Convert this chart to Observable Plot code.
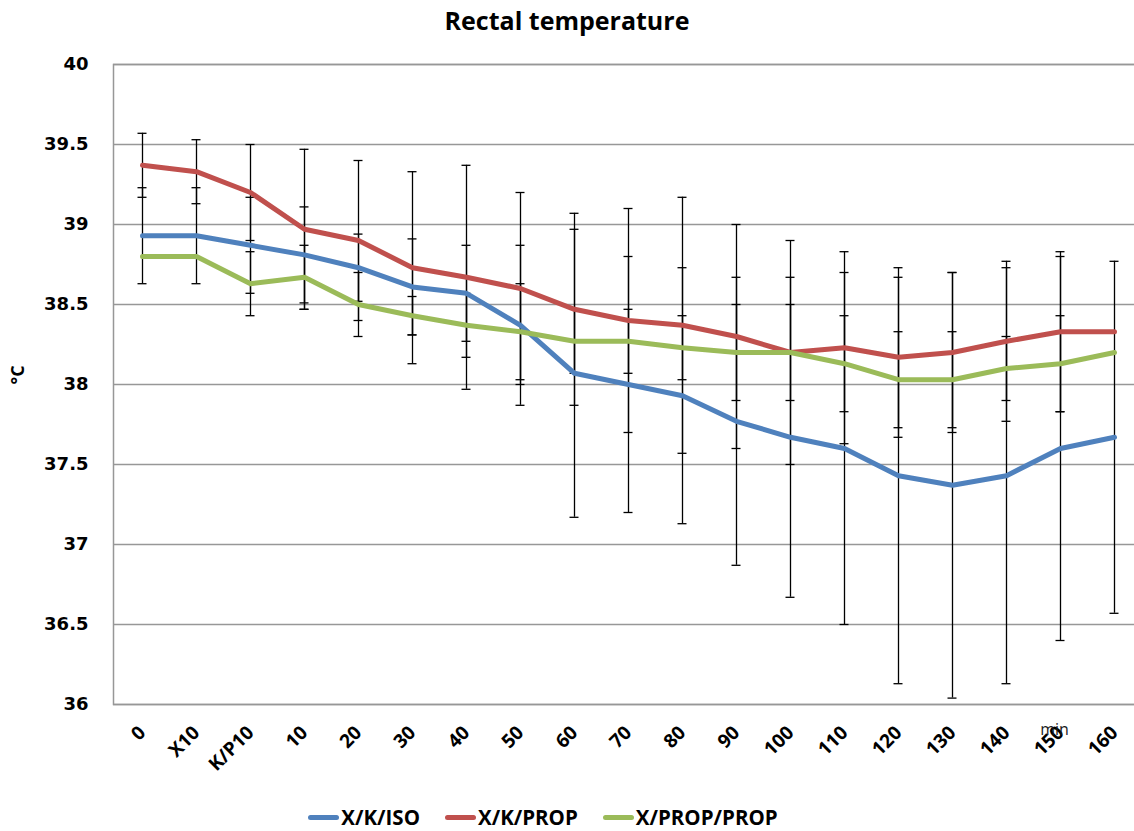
<!DOCTYPE html>
<html><head><meta charset="utf-8">
<script src="https://cdn.jsdelivr.net/npm/d3@7"></script>
<script src="https://cdn.jsdelivr.net/npm/@observablehq/plot@0.6"></script>
<style>
html,body{margin:0;padding:0;background:#fff;}
body{width:1134px;height:831px;overflow:hidden;position:relative;}
#title{position:absolute;left:0;top:0;width:1134px;text-align:center;font:bold 25px "Open Sans",sans-serif;line-height:40px;color:#000;}
#chart{position:absolute;left:0;top:40px;}
#legend{position:absolute;top:803px;left:0;width:1086px;display:flex;justify-content:center;gap:25px;font:bold 20.5px "Open Sans",sans-serif;color:#000;line-height:28px;}
#legend .item{display:flex;align-items:center;}
#legend .sw{display:inline-block;width:31px;height:5px;border-radius:3px;margin-right:2px;}
</style>
</head><body>
<div id="title">Rectal temperature</div>
<div id="chart"></div>
<div id="legend"></div>
<script>
const categories = ["0","X10","K/P10","10","20","30","40","50","60","70","80","90","100","110","120","130","140","150","160"];
const seriesNames = ["X/K/ISO","X/K/PROP","X/PROP/PROP"];
const seriesColors = ["#4F81BD","#C0504D","#9BBB59"];
const isoMean  = [38.93,38.93,38.87,38.81,38.73,38.61,38.57,38.37,38.07,38.00,37.93,37.77,37.67,37.60,37.43,37.37,37.43,37.60,37.67];
const isoErr   = [0.30,0.30,0.30,0.30,0.21,0.30,0.30,0.50,0.90,0.80,0.80,0.90,1.00,1.10,1.30,1.33,1.30,1.20,1.10];
const propMean = [39.37,39.33,39.20,38.97,38.90,38.73,38.67,38.60,38.47,38.40,38.37,38.30,38.20,38.23,38.17,38.20,38.27,38.33,38.33];
const propErr  = [0.20,0.20,0.30,0.50,0.50,0.60,0.70,0.60,0.60,0.70,0.80,0.70,0.70,0.60,0.50,0.50,0.50,0.50,null];
const ppMean   = [38.80,38.80,38.63,38.67,38.50,38.43,38.37,38.33,38.27,38.27,38.23,38.20,38.20,38.13,38.03,38.03,38.10,38.13,38.20];
const ppErr    = [null,null,0.20,0.20,0.20,0.12,0.20,0.30,0.20,0.20,0.20,0.30,0.30,0.30,0.30,0.30,0.20,0.30,null];
const yTicks = [36,36.5,37,37.5,38,38.5,39,39.5,40];

const means = [isoMean, propMean, ppMean];
const errs = [isoErr, propErr, ppErr];
const rows = [];
seriesNames.forEach((s, si) => {
  categories.forEach((c, i) => {
    rows.push({series: s, cat: c, mean: means[si][i], err: errs[si][i]});
  });
});
const errRows = rows.filter(d => d.err != null).map(d => ({...d, lo: d.mean - d.err, hi: d.mean + d.err}));

const chart = Plot.plot({
  width: 1134,
  height: 760,
  marginTop: 24,
  marginBottom: 96,
  marginLeft: 113,
  marginRight: -8,
  style: {overflow: "hidden", background: "#fff", color: "#000"},
  x: {type: "band", domain: categories, padding: 0},
  y: {domain: [36, 40]},
  color: {domain: seriesNames, range: seriesColors},
  marks: [
    Plot.ruleY(yTicks, {stroke: "#979797", strokeWidth: 1.5}),
    Plot.frame({stroke: "#979797", strokeWidth: 1.5}),
    Plot.axisY({ticks: yTicks, tickSize: 0, tickPadding: 25, tickFormat: d => String(d), fontSize: 18, fontWeight: "bold", fontFamily: "DejaVu Sans", label: null}),
    Plot.axisX({tickRotate: -45, tickSize: 0, tickPadding: 25, fontSize: 19, fontWeight: "bold", fontFamily: "Open Sans", label: null}),
    Plot.ruleX(errRows, {x: "cat", y1: "lo", y2: "hi", stroke: "#000", strokeWidth: 1.3}),
    Plot.tickY(errRows, {x: "cat", y: "lo", stroke: "#000", strokeWidth: 1.3, insetLeft: 22.5, insetRight: 22.5}),
    Plot.tickY(errRows, {x: "cat", y: "hi", stroke: "#000", strokeWidth: 1.3, insetLeft: 22.5, insetRight: 22.5}),
    Plot.line(rows, {x: "cat", y: "mean", z: "series", stroke: "series", strokeWidth: 5, strokeLinejoin: "round", strokeLinecap: "round"}),
    Plot.text(["°C"], {frameAnchor: "left", dx: -95, rotate: -90, fontSize: 18, fontWeight: "bold", fontFamily: "Open Sans"}),
    Plot.text(["min"], {x: () => categories[17], frameAnchor: "bottom", dy: 30, dx: -6, fontSize: 16, fontFamily: "Open Sans", fill: "#1a1a1a"})
  ]
});
document.getElementById("chart").appendChild(chart);

const legend = document.getElementById("legend");
seriesNames.forEach((s, i) => {
  const item = document.createElement("div");
  item.className = "item";
  const sw = document.createElement("span");
  sw.className = "sw";
  sw.style.background = seriesColors[i];
  const t = document.createElement("span");
  t.textContent = s;
  item.appendChild(sw);
  item.appendChild(t);
  legend.appendChild(item);
});
</script>
</body></html>
